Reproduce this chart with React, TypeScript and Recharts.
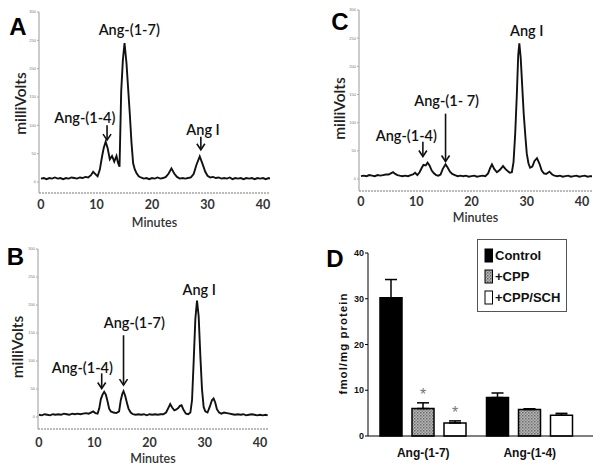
import React from 'react';
import {
  LineChart, Line, XAxis, YAxis, ReferenceLine, ReferenceDot,
  BarChart, Bar, ErrorBar, Legend, LabelList,
} from 'recharts';

// ---------- chromatogram data (minutes, milliVolts) ----------
const minuteTicks = [0, 10, 20, 30, 40];
const mvTicks = [0, 50, 100, 150, 200, 250, 300];

const traceA: [number, number][] = [
  [0, 6], [0.5, 7], [1, 5], [1.5, 7], [2, 6], [2.5, 8], [3, 6], [3.5, 7], [4, 5], [4.5, 7],
  [5, 6], [5.5, 8], [6, 7], [6.5, 6], [7, 8], [7.5, 7], [8, 9], [8.5, 8], [9, 12], [9.4, 18],
  [9.8, 14], [10.2, 10], [10.6, 22], [11, 45], [11.3, 60], [11.65, 71], [12, 60], [12.4, 40],
  [12.8, 46], [13.2, 36], [13.6, 46], [13.9, 33], [14.15, 27], [14.45, 160], [14.75, 215],
  [15.05, 245], [15.4, 210], [15.7, 165], [16, 120], [16.3, 70], [16.6, 33], [16.9, 22],
  [17.2, 16], [17.6, 10], [18, 8], [18.5, 6], [19, 7], [19.5, 5], [20, 7], [20.5, 6], [21, 8],
  [21.5, 6], [22, 7], [22.5, 9], [23, 15], [23.5, 24], [24, 15], [24.5, 9], [25, 6], [25.5, 7],
  [26, 6], [26.5, 7], [27, 8], [27.5, 14], [28, 30], [28.6, 45], [29.1, 32], [29.6, 18],
  [30, 11], [30.5, 8], [31, 9], [31.5, 7], [32, 8], [32.5, 6], [33, 7], [33.5, 6], [34, 8],
  [34.5, 5], [35, 7], [35.5, 6], [36, 7], [36.5, 5], [37, 7], [37.5, 6], [38, 7], [38.5, 5],
  [39, 7], [39.5, 6], [40, 7], [40.5, 5], [41, 7], [41.3, 6],
];

const traceB: [number, number][] = [
  [0, 4], [0.5, 3], [1, 5], [1.5, 4], [2, 3], [2.5, 5], [3, 4], [3.5, 5], [4, 4], [4.5, 6],
  [5, 5], [5.5, 4], [6, 6], [6.5, 5], [7, 6], [7.5, 5], [8, 6], [8.5, 7], [9, 6], [9.4, 8],
  [9.8, 10], [10.2, 7], [10.6, 6], [10.9, 15], [11.2, 32], [11.5, 40], [11.8, 45], [12.1, 40],
  [12.4, 28], [12.7, 15], [13, 10], [13.5, 8], [14, 7], [14.5, 10], [14.8, 30], [15.1, 42],
  [15.3, 46], [15.6, 38], [15.9, 26], [16.2, 15], [16.6, 8], [17, 5], [17.5, 4], [18, 5],
  [18.5, 4], [19, 5], [19.5, 3], [20, 5], [20.5, 4], [21, 5], [21.5, 4], [22, 5], [22.5, 5],
  [23, 8], [23.4, 16], [23.75, 23], [24.1, 17], [24.5, 12], [24.8, 13], [25.2, 16], [25.5, 20],
  [25.8, 21], [26.2, 12], [26.6, 6], [27, 5], [27.4, 8], [27.7, 30], [28, 100], [28.3, 175],
  [28.6, 208], [28.9, 180], [29.2, 110], [29.5, 50], [29.8, 18], [30.1, 10], [30.5, 8],
  [30.9, 18], [31.3, 30], [31.6, 33], [31.9, 26], [32.2, 14], [32.6, 8], [33, 6], [33.5, 8],
  [34, 7], [34.5, 6], [35, 5], [35.5, 4], [36, 5], [36.5, 4], [37, 5], [37.5, 3], [38, 4],
  [38.5, 5], [39, 4], [39.5, 3], [40, 4], [40.5, 3], [41, 4], [41.4, 3],
];

const traceC: [number, number][] = [
  [0, 5], [0.5, 6], [1, 5], [1.5, 7], [2, 6], [2.5, 5], [3, 7], [3.5, 6], [4, 7], [4.5, 8],
  [5, 8], [5.4, 10], [5.8, 12], [6.2, 9], [6.6, 7], [7, 6], [7.5, 5], [8, 6], [8.5, 5], [9, 7],
  [9.4, 8], [9.8, 11], [10.2, 7], [10.6, 12], [11, 20], [11.3, 25], [11.7, 24], [12.05, 29],
  [12.4, 24], [12.8, 15], [13.2, 10], [13.6, 7], [14, 6], [14.4, 8], [14.8, 18], [15.3, 26],
  [15.7, 20], [16.1, 13], [16.5, 9], [17, 7], [17.5, 5], [18, 6], [18.5, 5], [19, 6], [19.5, 4],
  [20, 5], [20.5, 6], [21, 4], [21.5, 5], [22, 6], [22.5, 5], [23, 10], [23.4, 20], [23.7, 26],
  [24.1, 18], [24.6, 12], [25.1, 16], [25.7, 23], [26.2, 17], [26.9, 11], [27.3, 12], [27.6, 30],
  [27.9, 80], [28.2, 150], [28.45, 220], [28.65, 241], [28.9, 215], [29.2, 160], [29.45, 115],
  [29.75, 75], [30, 45], [30.3, 28], [30.6, 20], [31, 22], [31.4, 32], [31.85, 37], [32.3, 27],
  [32.7, 15], [33.1, 10], [33.5, 9], [34.1, 13], [34.6, 8], [35, 6], [35.5, 5], [36, 6],
  [36.5, 4], [37, 5], [37.5, 6], [38, 4], [38.5, 5], [39, 6], [39.5, 4], [40, 5], [40.5, 6],
  [41, 4], [41.5, 5], [41.8, 5],
];

type Annot = { text: string; tx: number; ty: number; ax?: number; from?: number; to?: number };

const annotA: Annot[] = [
  { text: 'Ang-(1-4)', tx: 7.9, ty: 114, ax: 11.9, from: 100, to: 74 },
  { text: 'Ang-(1-7)', tx: 15.9, ty: 269 },
  { text: 'Ang I', tx: 29.2, ty: 93, ax: 28.8, from: 80, to: 57 },
];
const annotB: Annot[] = [
  { text: 'Ang-(1-4)', tx: 7.85, ty: 89, ax: 11.35, from: 78, to: 51 },
  { text: 'Ang-(1-7)', tx: 17.25, ty: 168, ax: 15.3, from: 146, to: 57 },
  { text: 'Ang I', tx: 29.0, ty: 228 },
];
const annotC: Annot[] = [
  { text: 'Ang-(1-4)', tx: 8.2, ty: 78, ax: 11.2, from: 66, to: 40 },
  { text: 'Ang-(1- 7)', tx: 15.5, ty: 140, ax: 15.3, from: 116, to: 31 },
  { text: 'Ang I', tx: 30.0, ty: 264 },
];

// ---------- bar chart data ----------
const barCategories = ['Ang-(1-7)', 'Ang-(1-4)'];
const seriesNames = ['Control', '+CPP', '+CPP/SCH'];
const controlMean = [30.2, 8.4];
const controlSem = [4.0, 1.0];
const cppMean = [6.0, 5.8];
const cppSem = [1.25, 0.15];
const cppSchMean = [2.85, 4.55];
const cppSchSem = [0.45, 0.4];
const cppSig = ['*', ''];
const cppSchSig = ['*', ''];
const fmolTicks = [0, 10, 20, 30, 40];

const barData = barCategories.map((cat, i) => ({
  cat,
  control: controlMean[i],
  controlErr: [0, controlSem[i]],
  cpp: cppMean[i],
  cppErr: [0, cppSem[i]],
  cppSig: cppSig[i],
  cppSch: cppSchMean[i],
  cppSchErr: [0, cppSchSem[i]],
  cppSchSig: cppSchSig[i],
}));

const CAL = 'Lato, "Open Sans", sans-serif';
const ARIAL = '"Liberation Sans", Arial, sans-serif';

const arrowShape = (p: any) => {
  const { x1, y1, x2, y2 } = p;
  return (
    <g>
      <line x1={x1} y1={y1} x2={x2} y2={y2} stroke="#111" strokeWidth={1.6} />
      <polyline points={`${x2 - 4},${y2 - 6} ${x2},${y2} ${x2 + 4},${y2 - 6}`} fill="none" stroke="#111" strokeWidth={1.6} />
    </g>
  );
};

const textShape = (text: string) => (p: any) => (
  <text x={p.cx} y={p.cy} textAnchor="middle" dominantBaseline="central"
    fontFamily={CAL} fontSize={14.5} fontWeight={600} fill="#111">{text}</text>
);

type ChromProps = {
  rows: [number, number][];
  annots: Annot[];
  xDomain: [number, number];
  yDomain: [number, number];
  width: number;
  height: number;
  margin: { top: number; right: number; left: number; bottom: number };
  yAxisWidth: number;
  xAxisHeight: number;
  tickGap: number;
  minutesDy: number;
  voltsX: number;
  voltsDy: number;
};

function Chromatogram(props: ChromProps) {
  const data = props.rows.map(([t, mv]) => ({ t, mv }));
  return (
    <LineChart width={props.width} height={props.height} data={data} margin={props.margin}>
      <XAxis xAxisId="top" orientation="top" type="number" dataKey="t" domain={props.xDomain}
        allowDataOverflow height={0} tick={false} tickLine={false} axisLine={{ stroke: '#999' }} />
      <YAxis yAxisId="right" orientation="right" type="number" domain={props.yDomain}
        allowDataOverflow width={0} tick={false} tickLine={false} axisLine={{ stroke: '#999' }} />
      <XAxis type="number" dataKey="t" domain={props.xDomain} allowDataOverflow ticks={minuteTicks}
        interval={0} height={props.xAxisHeight} tickLine={false} tickSize={0} tickMargin={props.tickGap}
        axisLine={{ stroke: '#777', strokeDasharray: '2 1' }}
        tick={{ fontFamily: CAL, fontSize: 12.5, fontWeight: 700, fill: '#333' }}
        label={(lp: any) => {
          const vb = lp.viewBox;
          return (
            <text x={vb.x + vb.width / 2} y={vb.y + props.minutesDy} textAnchor="middle"
              dominantBaseline="central" fontFamily={CAL} fontSize={12.5} fontWeight={600} fill="#333">Minutes</text>
          );
        }}
      />
      <YAxis type="number" domain={props.yDomain} allowDataOverflow ticks={mvTicks} interval={0}
        width={props.yAxisWidth} tickSize={2} tickMargin={1} axisLine={{ stroke: '#999' }}
        tickLine={{ stroke: '#aaa' }} tick={{ fontSize: 4, fill: '#777', fontFamily: ARIAL }}
        label={(lp: any) => {
          const vb = lp.viewBox;
          const cx = vb.x + props.voltsX;
          const cy = vb.y + vb.height / 2 + props.voltsDy;
          return (
            <text x={cx} y={cy} transform={`rotate(-90 ${cx} ${cy})`} textAnchor="middle"
              dominantBaseline="central" fontFamily={CAL} fontSize={15.5} fontWeight={600} fill="#222">milliVolts</text>
          );
        }}
      />
      <Line type="linear" dataKey="mv" stroke="#111" strokeWidth={1.9} dot={false} isAnimationActive={false} />
      {props.annots.filter((a) => a.ax !== undefined).map((a, i) => (
        <ReferenceLine key={'ar' + i} segment={[{ x: a.ax, y: a.from }, { x: a.ax, y: a.to }]}
          shape={arrowShape} ifOverflow="visible" />
      ))}
      {props.annots.map((a, i) => (
        <ReferenceDot key={'tx' + i} x={a.tx} y={a.ty} r={1} ifOverflow="visible" shape={textShape(a.text)} />
      ))}
    </LineChart>
  );
}

const renderLegend = (p: any) => {
  const items = [...(p.payload || [])].sort(
    (a: any, b: any) => seriesNames.indexOf(a.value) - seriesNames.indexOf(b.value),
  );
  return (
    <div style={{ border: '1px solid #555', background: '#fff', width: 90, height: 73, boxSizing: 'border-box', padding: '5px 0 0 6px' }}>
      {items.map((it: any, i: number) => (
        <div key={i} style={{ display: 'flex', alignItems: 'center', height: 21 }}>
          <svg width={10} height={15} style={{ display: 'block' }}>
            <rect x={1} y={1} width={7.5} height={13} fill={it.color} stroke="#000" strokeWidth={1} />
          </svg>
          <span style={{ fontFamily: ARIAL, fontWeight: 700, fontSize: 13, color: '#111', marginLeft: 1, whiteSpace: 'nowrap' }}>{it.value}</span>
        </div>
      ))}
    </div>
  );
};

const starContent = (means: number[], sems: number[]) => (p: any) => {
  const { x, y, width, height, value } = p;
  if (!value) return null;
  const idx = typeof p.index === 'number' ? p.index : 0;
  const pxPerUnit = Math.abs(height) / means[idx];
  const errTop = y - sems[idx] * pxPerUnit;
  return (
    <text x={x + width / 2} y={errTop - 3} textAnchor="middle" fontFamily={ARIAL} fontSize={16} fill="#777">{value}</text>
  );
};

function BarPanel() {
  return (
    <BarChart width={302} height={241} data={barData} margin={{ top: 21, right: 9, left: 0, bottom: 0 }}
      barSize={22} barGap={10}>
      <defs>
        <pattern id="cppHatch" width="3" height="3" patternUnits="userSpaceOnUse">
          <rect width="3" height="3" fill="#b8b8b8" />
          <rect width="1.5" height="1.5" fill="#6a6a6a" />
          <rect x="1.5" y="1.5" width="1.5" height="1.5" fill="#8a8a8a" />
        </pattern>
      </defs>
      <XAxis dataKey="cat" height={37} padding={{ left: 2, right: 10 }} tickLine={false}
        axisLine={{ stroke: '#000' }} tickMargin={6} interval={0}
        tick={{ fontFamily: ARIAL, fontSize: 12, fontWeight: 700, fill: '#111' }} />
      <YAxis type="number" domain={[0, 40]} ticks={fmolTicks} interval={0} width={68}
        tickSize={3} tickMargin={1} axisLine={{ stroke: '#000' }} tickLine={{ stroke: '#000' }}
        tick={{ fontFamily: ARIAL, fontSize: 9, fontWeight: 700, fill: '#111' }}
        label={(lp: any) => {
          const vb = lp.viewBox;
          const cx = vb.x + 43;
          const cy = vb.y + vb.height / 2 - 1;
          return (
            <text x={cx} y={cy} transform={`rotate(-90 ${cx} ${cy})`} textAnchor="middle"
              dominantBaseline="central" fontFamily={ARIAL} fontSize={11.5} fontWeight={700}
              letterSpacing={1} fill="#111">fmol/mg protein</text>
          );
        }}
      />
      <Legend layout="vertical" align="center" verticalAlign="middle" content={renderLegend}
        wrapperStyle={{ left: 177, top: 7, width: 90, height: 73 }} />
      <Bar dataKey="control" name="Control" fill="#000" stroke="#000" strokeWidth={1.5} isAnimationActive={false}>
        <ErrorBar dataKey="controlErr" width={6} stroke="#000" strokeWidth={1.5} direction="y" />
      </Bar>
      <Bar dataKey="cpp" name="+CPP" fill="url(#cppHatch)" stroke="#000" strokeWidth={1.5} isAnimationActive={false}>
        <ErrorBar dataKey="cppErr" width={6} stroke="#000" strokeWidth={1.5} direction="y" />
        <LabelList dataKey="cppSig" content={starContent(cppMean, cppSem)} />
      </Bar>
      <Bar dataKey="cppSch" name="+CPP/SCH" fill="#fff" stroke="#000" strokeWidth={1.5} isAnimationActive={false}>
        <ErrorBar dataKey="cppSchErr" width={6} stroke="#000" strokeWidth={1.5} direction="y" />
        <LabelList dataKey="cppSchSig" content={starContent(cppSchMean, cppSchSem)} />
      </Bar>
    </BarChart>
  );
}

const letterStyle = { fontFamily: ARIAL, fontWeight: 700, fontSize: 24, fill: '#000' } as const;

export default function App() {
  return (
    <div style={{ position: 'absolute', left: 0, top: 0, width: 602, height: 473, background: '#fff', overflow: 'hidden' }}>
      <div style={{ position: 'absolute', left: 0, top: 0 }}>
        <Chromatogram rows={traceA} annots={annotA} xDomain={[-0.36, 41.26]} yDomain={[-19.4, 300]}
          width={300} height={232} margin={{ top: 12, right: 30, left: 0, bottom: 0 }}
          yAxisWidth={39} xAxisHeight={39} tickGap={7.6} minutesDy={29} voltsX={20} voltsDy={1} />
      </div>
      <div style={{ position: 'absolute', left: 0, top: 232 }}>
        <Chromatogram rows={traceB} annots={annotB} xDomain={[-0.18, 41.45]} yDomain={[-21.4, 300]}
          width={300} height={241} margin={{ top: 17, right: 32, left: 0, bottom: 0 }}
          yAxisWidth={38} xAxisHeight={44} tickGap={9.6} minutesDy={29} voltsX={17} voltsDy={8} />
      </div>
      <div style={{ position: 'absolute', left: 300, top: 0 }}>
        <Chromatogram rows={traceC} annots={annotC} xDomain={[-0.36, 41.8]} yDomain={[-21.3, 300]}
          width={302} height={232} margin={{ top: 10, right: 10, left: 0, bottom: 0 }}
          yAxisWidth={59} xAxisHeight={41} tickGap={6.6} minutesDy={26} voltsX={39} voltsDy={8} />
      </div>
      <div style={{ position: 'absolute', left: 300, top: 232 }}>
        <BarPanel />
      </div>
      <svg width={602} height={473} style={{ position: 'absolute', left: 0, top: 0, pointerEvents: 'none' }}>
        <text x={18} y={35} textAnchor="middle" {...letterStyle}>A</text>
        <text x={15.5} y={265} textAnchor="middle" {...letterStyle}>B</text>
        <text x={340} y={30} textAnchor="middle" {...letterStyle}>C</text>
        <text x={335} y={267} textAnchor="middle" {...letterStyle}>D</text>
      </svg>
    </div>
  );
}
